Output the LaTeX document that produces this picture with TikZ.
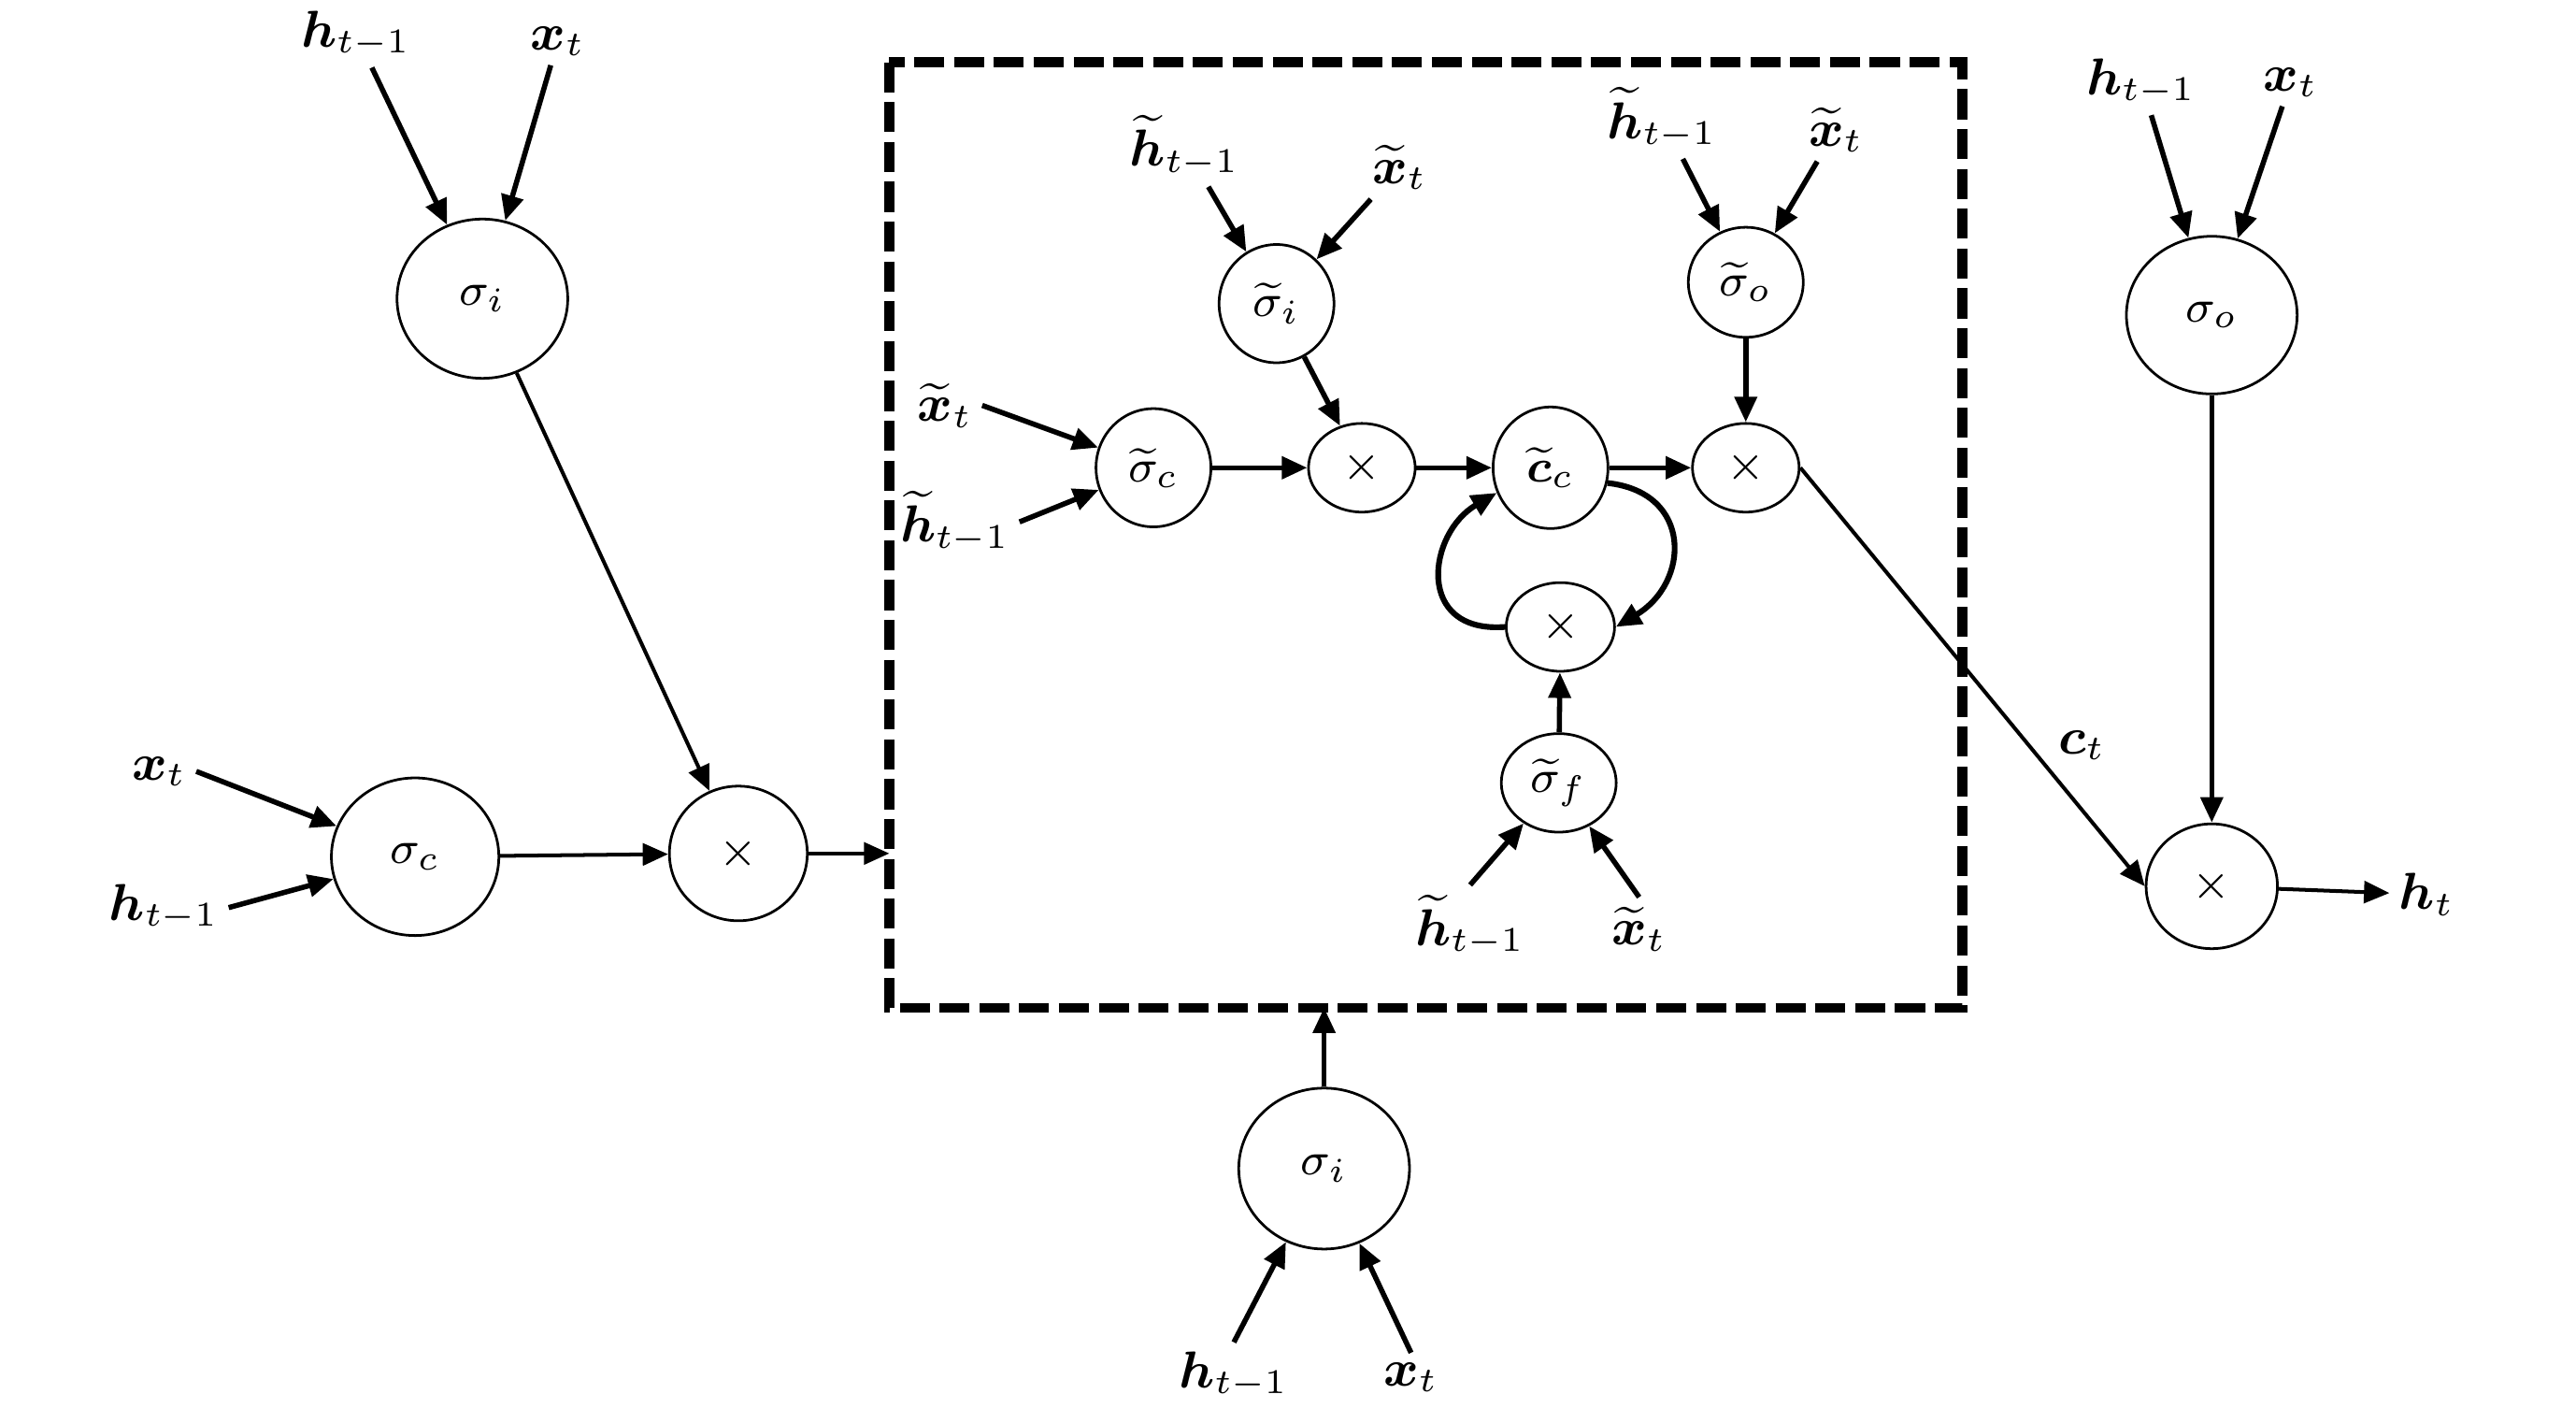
\documentclass[tikz,border=0pt]{standalone}
\usepackage{amsmath,amssymb}
\usepackage{tikz}
\usetikzlibrary{positioning}
\usetikzlibrary{shapes.geometric}
\usetikzlibrary{arrows.meta}

\begin{document}
\begin{tikzpicture}[x=0.01cm,y=-0.01cm,
	>={Triangle[length=4.4pt,width=3.8pt]},
	gate/.style={ellipse,draw,line width=0.45pt,inner sep=0pt,font=\footnotesize,minimum width=1.04cm,minimum height=0.97cm},
	gatet/.style={gate,minimum width=0.70cm,minimum height=0.72cm},
	prod/.style={gate,minimum width=0.65cm,minimum height=0.54cm},
	lab/.style={inner sep=1.5pt,font=\small},
	feed/.style={line width=0.9pt,->},
	flow/.style={line width=0.65pt,->},
	loopback/.style={line width=1pt,->}]
				\useasboundingbox (0,0) rectangle (1570,867);

				%Nodes (left)
				\node[lab]	(hA)	at	(217,21)	{$\boldsymbol{h}_{t-1}$};
				\node[lab]	(xA)	at	(340,25)	{$\boldsymbol{x}_t$};
				\node[gate]	(sigiA)	at	(294,182)	{$\sigma_i$};
				\node[lab]	(xB)	at	(97,470)	{$\boldsymbol{x}_t$};
				\node[lab]	(hB)	at	(100,553)	{$\boldsymbol{h}_{t-1}$};
				\node[gate,minimum width=1.02cm,minimum height=0.96cm]	(sigcA)	at	(253,522)	{$\sigma_c$};
				\node[gate,minimum width=0.84cm,minimum height=0.82cm]	(mulA)	at	(450,520)	{$\times$};
				\coordinate	(inL)	at	(542,520);

				%Nodes (box)
				\node[gatet]	(sigcB)	at	(703,285)	{$\widetilde{\sigma}_c$};
				\node[lab]	(xC)	at	(576,247)	{$\widetilde{\boldsymbol{x}}_t$};
				\node[lab]	(hC)	at	(582,318)	{$\widetilde{\boldsymbol{h}}_{t-1}$};
				\node[prod]	(mulB)	at	(830,285)	{$\times$};
				\node[gatet]	(sigiB)	at	(778,185)	{$\widetilde{\sigma}_i$};
				\node[lab]	(hD)	at	(722,89)	{$\widetilde{\boldsymbol{h}}_{t-1}$};
				\node[lab]	(xD)	at	(853,102)	{$\widetilde{\boldsymbol{x}}_t$};
				\node[gatet,minimum height=0.74cm]	(cc)	at	(945,285)	{$\widetilde{\boldsymbol{c}}_c$};
				\node[prod]	(mulC)	at	(1064,285)	{$\times$};
				\node[gatet,minimum height=0.67cm]	(sigoB)	at	(1064,172)	{$\widetilde{\sigma}_o$};
				\node[lab]	(hE)	at	(1013,72)	{$\widetilde{\boldsymbol{h}}_{t-1}$};
				\node[lab]	(xE)	at	(1119,79)	{$\widetilde{\boldsymbol{x}}_t$};
				\node[prod,minimum width=0.66cm]	(mulD)	at	(951,382)	{$\times$};
				\node[gatet,minimum height=0.60cm]	(sigfB)	at	(950,477)	{$\widetilde{\sigma}_f$};
				\node[lab]	(hF)	at	(896,564)	{$\widetilde{\boldsymbol{h}}_{t-1}$};
				\node[lab]	(xF)	at	(999,566)	{$\widetilde{\boldsymbol{x}}_t$};

				%Nodes (bottom)
				\node[gate,minimum height=0.98cm]	(sigiC)	at	(807,712)	{$\sigma_i$};
				\node[lab]	(hG)	at	(752,838)	{$\boldsymbol{h}_{t-1}$};
				\node[lab]	(xG)	at	(860,839)	{$\boldsymbol{x}_t$};
				\coordinate	(inB)	at	(807,614);

				%Nodes (right)
				\node[lab]	(hH)	at	(1305,50)	{$\boldsymbol{h}_{t-1}$};
				\node[lab]	(xH)	at	(1396,50)	{$\boldsymbol{x}_t$};
				\node[gate,minimum height=0.96cm]	(sigoA)	at	(1348,192)	{$\sigma_o$};
				\node[gate,minimum width=0.80cm,minimum height=0.76cm]	(mulE)	at	(1348,540)	{$\times$};
				\node[lab]	(hI)	at	(1479,545)	{$\boldsymbol{h}_t$};
				\node[lab]	(cLab)	at	(1269,454)	{$\boldsymbol{c}_t$};

				%Box
				\draw[line width=1.7pt,dash pattern=on 5.2pt off 1.7pt] (542,38) rectangle (1196,614);

				%Lines
				\draw[feed] (hA) -- (sigiA);
				\draw[feed] (xA) -- (sigiA);
				\draw[flow] (sigiA) -- (mulA);
				\draw[feed] (xB.east) -- (sigcA);
				\draw[feed] (hB.east) -- (sigcA);
				\draw[flow] (sigcA) -- (mulA);
				\draw[flow] (mulA) -- (inL);

				\draw[feed] (xC.east) -- (sigcB);
				\draw[feed] (hC.east) -- (sigcB);
				\draw[feed] (hD) -- (sigiB);
				\draw[feed] (xD) -- (sigiB);
				\draw[feed] (sigiB) -- (mulB);
				\draw[feed] (sigcB) -- (mulB);
				\draw[feed] (mulB) -- (cc);
				\draw[feed] (cc) -- (mulC);
				\draw[feed] (hE) -- (sigoB);
				\draw[feed] (xE) -- (sigoB);
				\draw[feed] (sigoB) -- (mulC);
				\draw[feed] (hF.north) -- (sigfB);
				\draw[feed] (xF.north) -- (sigfB);
				\draw[feed] (sigfB) -- (mulD);
				\draw[loopback] (cc.-15) .. controls (1032,300) and (1030,355) .. (mulD.east);
				\draw[loopback] (mulD.west) .. controls (862,386) and (870,325) .. (cc.205);

				\draw[feed] (hG.north) -- (sigiC);
				\draw[feed] (xG.north) -- (sigiC);
				\draw[feed] (sigiC) -- (inB);

				\draw[feed] (hH) -- (sigoA);
				\draw[feed] (xH) -- (sigoA);
				\draw[feed] (sigoA) -- (mulE);
				\draw[flow] (mulC.east) -- (mulE.west);
				\draw[flow] (mulE) -- (hI);
\end{tikzpicture}
\end{document}
